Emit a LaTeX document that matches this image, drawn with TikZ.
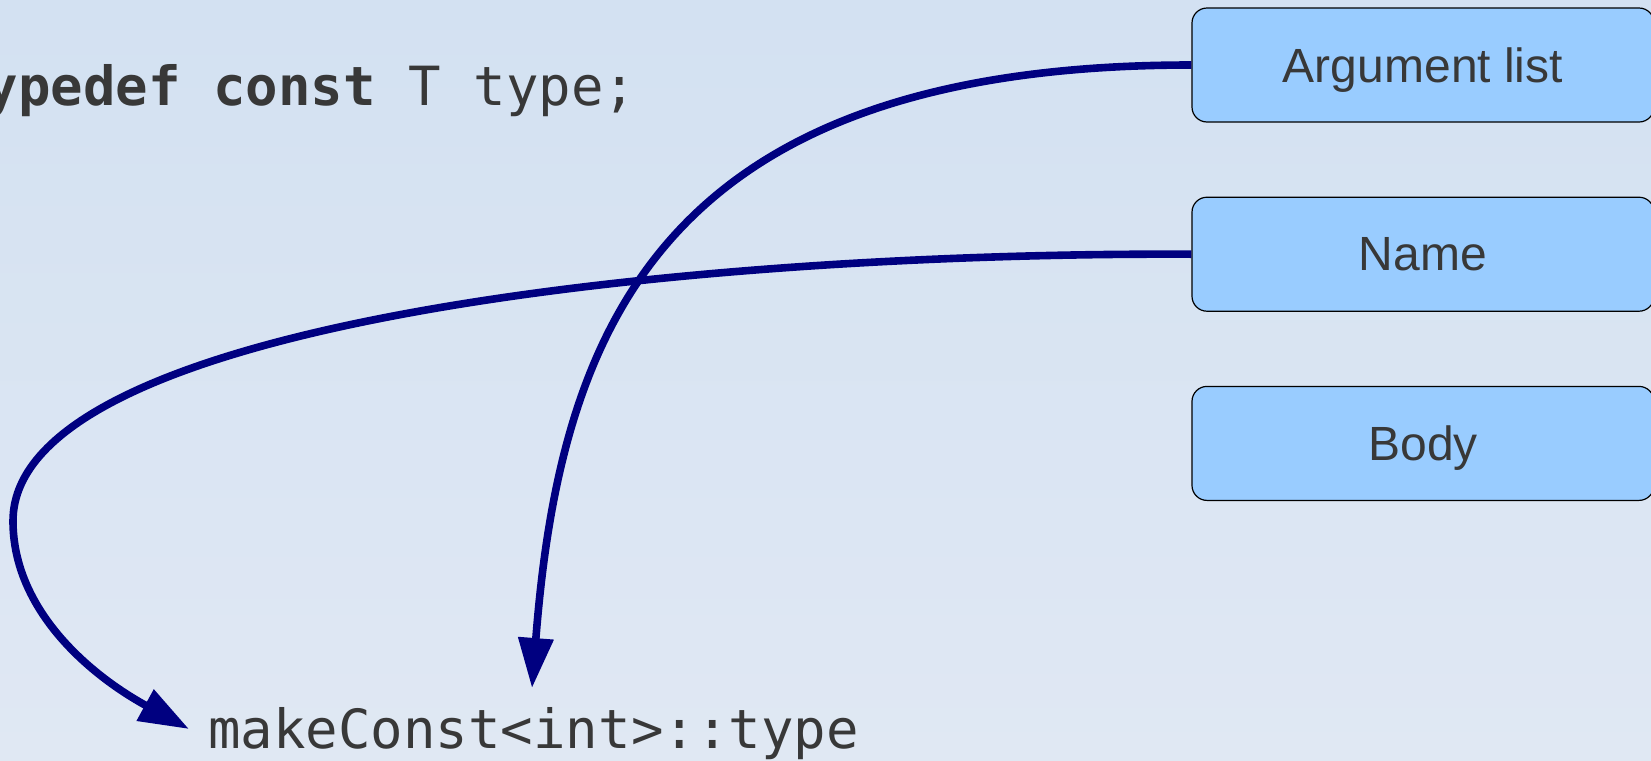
\documentclass[tikz,border=0pt]{standalone}
\usepackage{fontspec}
\setmainfont{Liberation Sans}
\setmonofont{DejaVu Sans Mono}
\usepackage{xcolor}
\definecolor{cBgTop}{HTML}{D3E1F2}
\definecolor{cBgBot}{HTML}{E0E8F3}
\definecolor{cBox}{HTML}{99CCFF}
\definecolor{cText}{HTML}{383838}
\definecolor{cArrow}{HTML}{000080}
\usepackage{tikz}
\usetikzlibrary{positioning,arrows.meta}
\tikzset{
  node-box/.style={draw=black,line width=0.6pt,fill=cBox,rounded corners=7.5pt,
    minimum width=231pt,minimum height=57pt,inner sep=0pt,align=center,
    text depth=0pt,text=cText,font=\fontsize{24pt}{28pt}\selectfont},
  node-code/.style={anchor=base west,inner sep=0pt,text=cText,
    font=\fontsize{27pt}{32pt}\selectfont\ttfamily},
  arrow/.style={-{Triangle[length=25pt,width=17pt]},line width=3.8pt,draw=cArrow},
}

\begin{document}
\begin{tikzpicture}[x=0.5pt,y=-0.5pt,node distance=37pt]
  \useasboundingbox (0,0) rectangle (1651,761);
  \clip (0,0) rectangle (1651,761);
  \fill[top color=cBgTop,bottom color=cBgBot] (0,0) rectangle (1651,761);

  % boxes on the right
  \node[node-box] (argBox) at (1423,65) {Argument list};
  \node[node-box,below=of argBox] (nameBox) {Name};
  \node[node-box,below=of nameBox] (bodyBox) {Body};

  % code
  \node[node-code] (typedefCode) at (-47,105)
    {\textbf{typedef const} T type;};
  \node[node-code] (usageCode) at (208,748) {makeConst<int>::type};

  \coordinate (argTip) at (532,688);
  \coordinate (nameTip) at (189,729);
  \coordinate (nameBend) at (13,521);

  \draw[arrow] (argBox.west) .. controls (660,65) and (560,330) .. (argTip);
  \draw[arrow] (nameBox.west) .. controls (700,252) and (13,320) .. (nameBend)
    .. controls (13,610) and (90,675) .. (nameTip);
\end{tikzpicture}
\end{document}
